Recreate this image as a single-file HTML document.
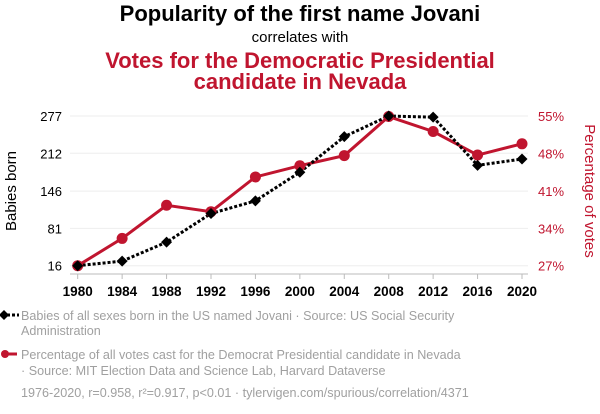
<!DOCTYPE html>
<html><head><meta charset="utf-8"><style>
body{margin:0;background:#fff;width:600px;height:414px;overflow:hidden;font-family:"Liberation Sans",sans-serif}
</style></head><body>
<svg id="c" width="600" height="414" style="position:absolute;left:0;top:0">
<text x="300" y="21" text-anchor="middle" font-size="22" font-weight="bold" fill="#000">Popularity of the first name Jovani</text>
<text x="300" y="42" text-anchor="middle" font-size="15" fill="#000">correlates with</text>
<text x="300" y="68" text-anchor="middle" font-size="22" font-weight="bold" fill="#c0152f">Votes for the Democratic Presidential</text>
<text x="300" y="89" text-anchor="middle" font-size="22" font-weight="bold" fill="#c0152f">candidate in Nevada</text>
<text transform="translate(16,191) rotate(-90)" text-anchor="middle" font-size="15" fill="#000">Babies born</text>
<text transform="translate(585,191) rotate(90)" text-anchor="middle" font-size="15" fill="#c0152f">Percentage of votes</text>
<g id="grid"></g><g id="axes"></g><g id="marks"></g>
<g font-size="12.6" fill="#a0a0a0">
<line x1="2" y1="315" x2="19" y2="315" stroke="#000" stroke-width="3" stroke-dasharray="3,2"/>
<path d="M4 310 L9 315 L4 320 L-1 315Z" fill="#000"/>
<text x="21" y="320">Babies of all sexes born in the US named Jovani · Source: US Social Security</text>
<text x="21" y="335">Administration</text>
<line x1="2" y1="354" x2="17" y2="354" stroke="#c0152f" stroke-width="3"/>
<circle cx="5" cy="354" r="4" fill="#c0152f"/>
<text x="21" y="359">Percentage of all votes cast for the Democrat Presidential candidate in Nevada</text>
<text x="21" y="375">· Source: MIT Election Data and Science Lab, Harvard Dataverse</text>
<text x="21" y="397">1976-2020, r=0.958, r²=0.917, p&lt;0.01 · tylervigen.com/spurious/correlation/4371</text>
</g>
</svg>
<script>
const years=[1980,1984,1988,1992,1996,2000,2004,2008,2012,2016,2020];
const babies=[16,24,57,107,129,179,241,277,275,191,202];
const votes=[27,32.1,38.3,37.1,43.6,45.7,47.6,54.9,52.1,47.7,49.8];
const leftTicks=[16,81,146,212,277];
const rightTicks=[27,34,41,48,55];
const NS="http://www.w3.org/2000/svg";
const x0=77.7,x1=522,yTop=116,yBot=265.7;
const xs=y=>x0+(y-1980)/(2020-1980)*(x1-x0);
const yl=v=>yBot-(v-16)/(277-16)*(yBot-yTop);
const yr=v=>yBot-(v-27)/(55-27)*(yBot-yTop);
function mk(t,a,p){const e=document.createElementNS(NS,t);for(const k in a)e.setAttribute(k,a[k]);document.getElementById(p).appendChild(e);return e;}
leftTicks.forEach((v,i)=>{
 const g=mk('line',{x1:70,x2:528,y1:yl(v),y2:yl(v),stroke:'#eeeeee','stroke-width':1},'grid');
 
 
 const t=mk('text',{x:62,y:yl(v)+5,'text-anchor':'end','font-size':13,fill:'#000'},'axes');t.textContent=v;
 
 
});
rightTicks.forEach(v=>{
 const t=mk('text',{x:538,y:yr(v)+5,'font-size':13,fill:'#c0152f'},'axes');t.textContent=v+'%';
 
 
});
const ax=mk('line',{x1:70,x2:528,y1:274,y2:274,stroke:'#bbb','stroke-width':1},'axes');


years.forEach(y=>{
 const tk=mk('line',{x1:xs(y),x2:xs(y),y1:274,y2:279,stroke:'#bbb'},'axes');
 
 
 const t=mk('text',{x:xs(y),y:296,'text-anchor':'middle','font-size':13.5,'font-weight':'bold',fill:'#000'},'axes');t.textContent=y;
 
 
});
const rl=mk('polyline',{points:years.map((y,i)=>xs(y)+','+yr(votes[i])).join(' '),fill:'none',stroke:'#c0152f','stroke-width':3},'marks');


const bl=mk('polyline',{points:years.map((y,i)=>xs(y)+','+yl(babies[i])).join(' '),fill:'none',stroke:'#000','stroke-width':3,'stroke-dasharray':'3,2'},'marks');


years.forEach((y,i)=>{
 const c=mk('circle',{cx:xs(y),cy:yr(votes[i]),r:5.5,fill:'#c0152f'},'marks');
 
 
});
years.forEach((y,i)=>{
 const cx=xs(y),cy=yl(babies[i]),d=5.5;
 const p=mk('path',{d:`M${cx} ${cy-d}L${cx+d} ${cy}L${cx} ${cy+d}L${cx-d} ${cy}Z`,fill:'#000'},'marks');
 
 
});
</script>
</body></html>
